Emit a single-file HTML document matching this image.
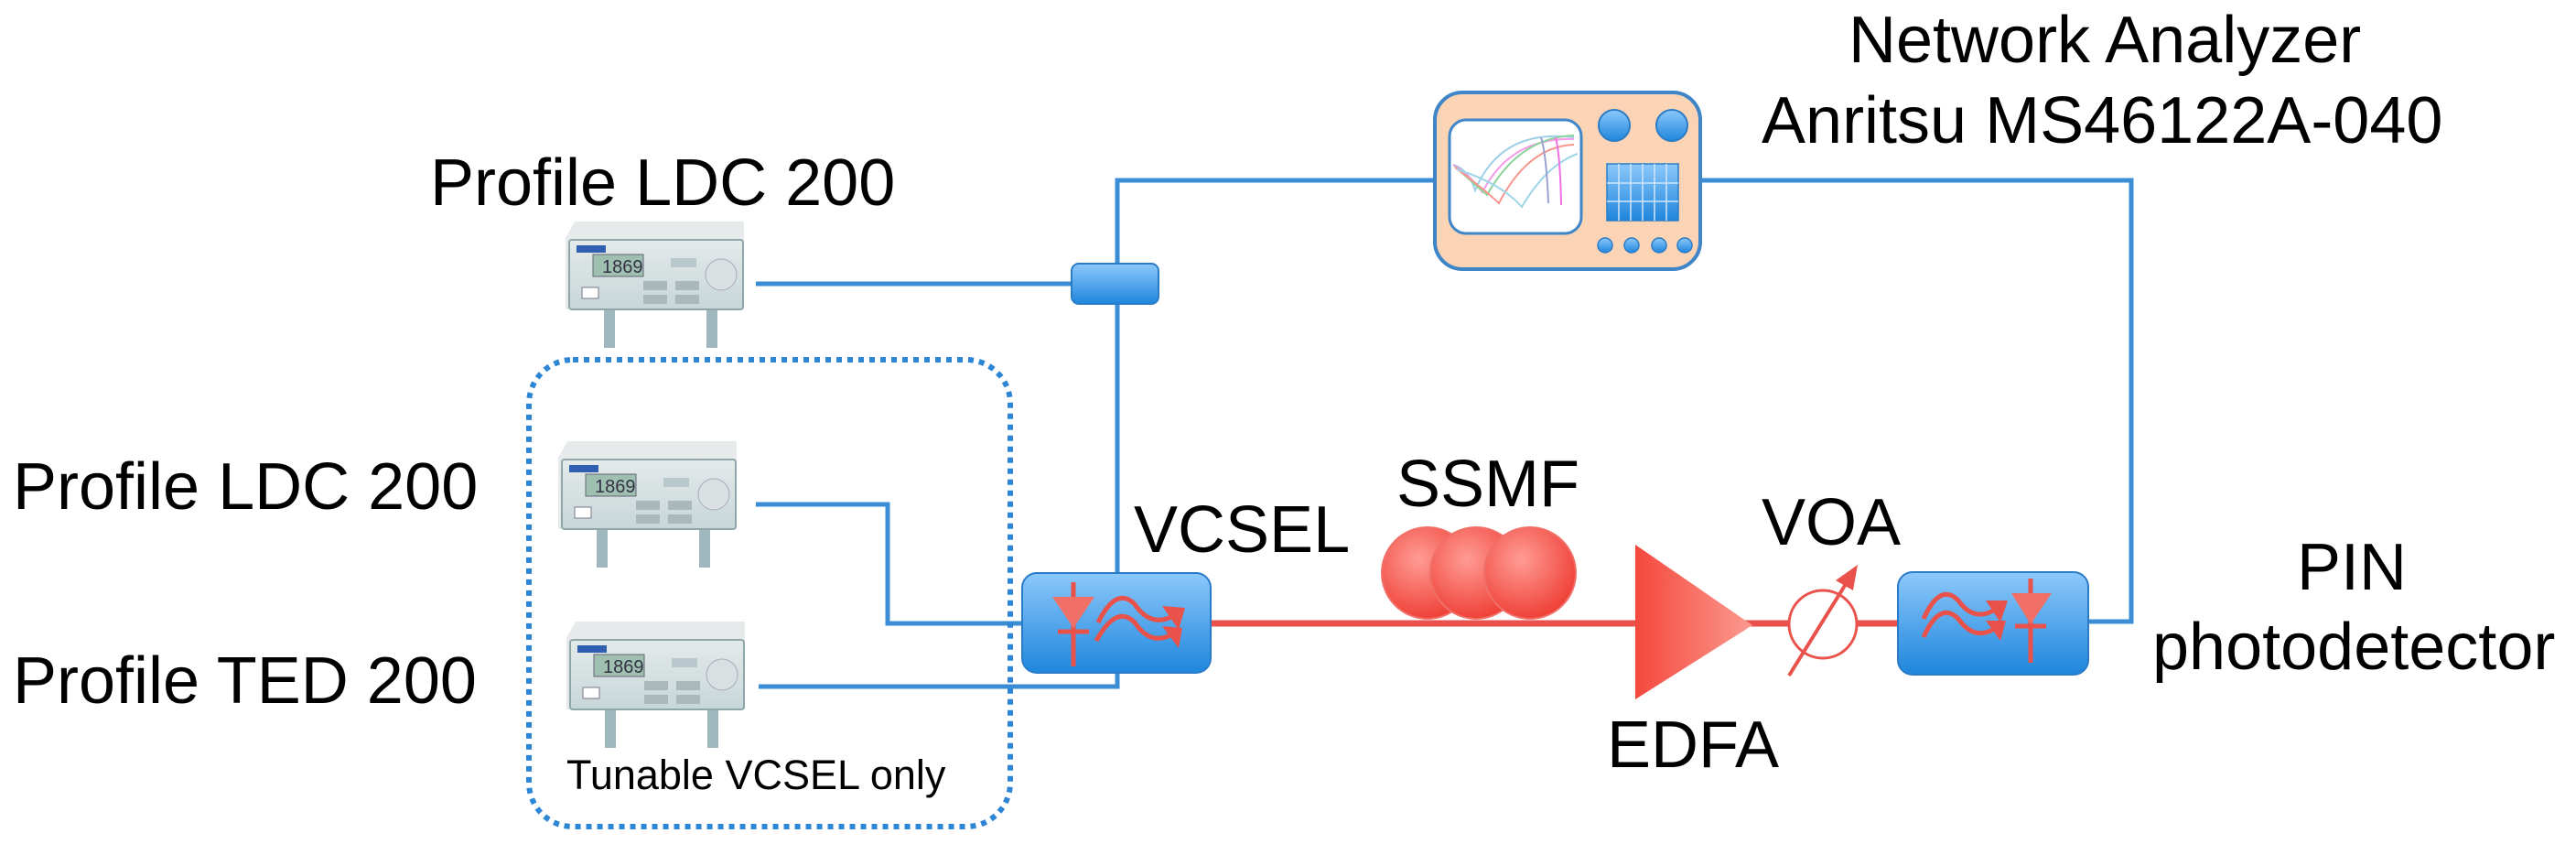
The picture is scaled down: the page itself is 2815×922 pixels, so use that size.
<!DOCTYPE html>
<html><head><meta charset="utf-8"><style>
html,body{margin:0;padding:0;background:#fff;}
svg{display:block;}
text{font-family:"Liberation Sans",Arial,sans-serif;fill:#000;}
</style></head><body>
<svg width="2815" height="922" viewBox="0 0 2815 922" xmlns="http://www.w3.org/2000/svg">
<defs>
<linearGradient id="bl" x1="0" y1="0" x2="0" y2="1"><stop offset="0" stop-color="#8cc8fb"/><stop offset="1" stop-color="#1f86dc"/></linearGradient>
<linearGradient id="rd" x1="0" y1="0" x2="1" y2="0"><stop offset="0" stop-color="#f5483c"/><stop offset="1" stop-color="#fb9a90"/></linearGradient>
<radialGradient id="rc" cx="0.4" cy="0.35" r="0.7"><stop offset="0" stop-color="#ff9c94"/><stop offset="1" stop-color="#ee3b32"/></radialGradient>
<linearGradient id="dv" x1="0" y1="0" x2="0" y2="1"><stop offset="0" stop-color="#e4eaea"/><stop offset="1" stop-color="#c7d6d8"/></linearGradient>
<g id="dev">
  <rect x="42" y="80" width="12" height="58" fill="#9fb8be"/>
  <rect x="154" y="80" width="12" height="58" fill="#9fb8be"/>
  <path d="M0 18 L10 0 L195 0 L195 96 L0 96 Z" fill="#e6eaea"/>
  <rect x="4" y="20" width="190" height="76" rx="3" fill="url(#dv)" stroke="#8fa6aa" stroke-width="2"/>
  <rect x="12" y="26" width="32" height="8" fill="#2f5fb0"/>
  <rect x="30" y="36" width="55" height="24" fill="#9fbfb0" stroke="#667" stroke-width="1"/>
  <text x="40" y="56" font-size="20" style="fill:#334">1869</text>
  <rect x="115" y="40" width="28" height="10" fill="#b8c8cc"/>
  <circle cx="170" cy="58" r="17" fill="#d8e0e2" stroke="#aab" stroke-width="1"/>
  <rect x="18" y="72" width="18" height="12" fill="#fff" stroke="#778" stroke-width="1"/>
  <rect x="85" y="65" width="26" height="10" fill="#aab8bc"/>
  <rect x="120" y="65" width="26" height="10" fill="#aab8bc"/>
  <rect x="85" y="80" width="26" height="10" fill="#aab8bc"/>
  <rect x="120" y="80" width="26" height="10" fill="#aab8bc"/>
</g>
</defs>

<!-- blue connectors -->
<g fill="none" stroke="#3b8ed6" stroke-width="5">
  <path d="M1221 626 L1221 197 L1567 197"/>
  <path d="M1858 197 L2329 197 L2329 679 L2280 679"/>
  <path d="M826 310 L1171 310"/>
  <path d="M826 551 L970 551 L970 681 L1117 681"/>
  <path d="M829 750 L1221 750 L1221 735"/>
</g>
<!-- dotted box -->
<rect x="578" y="393" width="526" height="510" rx="48" fill="none" stroke="#2d86d5" stroke-width="6" stroke-dasharray="6 6"/>

<!-- red fiber -->
<line x1="1323" y1="681" x2="2074" y2="681" stroke="#e8524a" stroke-width="7"/>

<!-- devices -->
<use href="#dev" transform="translate(618,242)"/>
<use href="#dev" transform="translate(610,482)"/>
<use href="#dev" transform="translate(619,679)"/>

<!-- splitter -->
<rect x="1171" y="288" width="95" height="44" rx="8" fill="url(#bl)" stroke="#2a7cc7" stroke-width="2"/>

<!-- network analyzer -->
<rect x="1568" y="101" width="290" height="193" rx="30" fill="#fbd3b5" stroke="#3f86c9" stroke-width="4"/>
<rect x="1584" y="131" width="144" height="124" rx="18" fill="#fff" stroke="#3f86c9" stroke-width="3"/>
<g fill="none" stroke-width="2">
  <path d="M1588 180 Q1605 185 1612 208 Q1640 140 1720 150" stroke="#9fd0e8"/>
  <path d="M1588 180 Q1605 190 1620 210 Q1650 150 1720 152" stroke="#f59ae8"/>
  <path d="M1590 182 Q1610 200 1625 213 Q1660 150 1720 148" stroke="#8ed39a"/>
  <path d="M1590 183 Q1620 205 1638 222 Q1670 160 1720 158" stroke="#f8958c"/>
  <path d="M1592 185 Q1640 200 1663 226 Q1690 180 1724 168" stroke="#9fd6e8"/>
  <path d="M1684 150 Q1690 170 1692 222" stroke="#9aa0d0"/>
  <path d="M1700 150 Q1705 170 1706 224" stroke="#f070e0"/>
</g>
<circle cx="1764" cy="137" r="17" fill="url(#bl)" stroke="#2a7cc7" stroke-width="2"/>
<circle cx="1827" cy="137" r="17" fill="url(#bl)" stroke="#2a7cc7" stroke-width="2"/>
<g fill="url(#bl)" stroke="#2a7cc7" stroke-width="1.5">
  <rect x="1756" y="179" width="78" height="62"/>
</g>
<g stroke="#cfe6fb" stroke-width="1.5">
  <path d="M1769 179V241M1782 179V241M1795 179V241M1808 179V241M1821 179V241M1756 200H1834M1756 220H1834"/>
</g>
<g fill="url(#bl)" stroke="#2a7cc7" stroke-width="1.5">
  <circle cx="1754" cy="268" r="8"/><circle cx="1783" cy="268" r="8"/><circle cx="1813" cy="268" r="8"/><circle cx="1841" cy="268" r="8"/>
</g>

<!-- VCSEL box -->
<rect x="1117" y="626" width="206" height="109" rx="16" fill="url(#bl)" stroke="#2a7cc7" stroke-width="2"/>
<g stroke="#e8524a" stroke-width="5" fill="none">
  <line x1="1173" y1="636" x2="1173" y2="728"/>
  <line x1="1156" y1="690" x2="1190" y2="690"/>
  <path d="M1200 680 Q1220 640 1240 660 Q1260 690 1290 668"/>
  <path d="M1198 700 Q1220 660 1240 680 Q1260 710 1288 688"/>
</g>
<path d="M1150 652 L1196 652 L1173 686 Z" fill="#f07068"/>
<path d="M1270 662 L1295 664 L1288 688 Z M1270 684 L1292 686 L1288 708 Z" fill="#e8524a"/>

<!-- SSMF spools -->
<ellipse cx="1560" cy="626" rx="50" ry="50" fill="url(#rc)" stroke="#f07068" stroke-width="2"/>
<ellipse cx="1613" cy="626" rx="50" ry="50" fill="url(#rc)" stroke="#f07068" stroke-width="2"/>
<ellipse cx="1672" cy="626" rx="50" ry="50" fill="url(#rc)" stroke="#f07068" stroke-width="2"/>

<!-- EDFA -->
<path d="M1787 595 L1915 683 L1787 764 Z" fill="url(#rd)"/>

<!-- VOA -->
<circle cx="1992" cy="682" r="37" fill="#fff" stroke="#e8524a" stroke-width="3"/>
<line x1="1955" y1="738" x2="2022" y2="630" stroke="#e8524a" stroke-width="4"/>
<path d="M2030 617 L2006 634 L2025 645 Z" fill="#e8524a"/>

<!-- PIN box -->
<rect x="2074" y="625" width="208" height="112" rx="16" fill="url(#bl)" stroke="#2a7cc7" stroke-width="2"/>
<g stroke="#e8524a" stroke-width="5" fill="none">
  <line x1="2219" y1="632" x2="2219" y2="724"/>
  <line x1="2202" y1="684" x2="2236" y2="684"/>
  <path d="M2102 676 Q2120 636 2140 656 Q2160 684 2188 660"/>
  <path d="M2102 696 Q2120 656 2140 676 Q2160 704 2186 682"/>
</g>
<path d="M2198 648 L2242 648 L2219 682 Z" fill="#f07068"/>
<path d="M2170 656 L2194 656 L2186 680 Z M2170 678 L2192 678 L2186 700 Z" fill="#e8524a"/>

<!-- labels -->
<g font-size="72">
<text x="2020" y="68">Network Analyzer</text>
<text x="1925" y="156">Anritsu MS46122A-040</text>
<text x="470" y="224">Profile LDC 200</text>
<text x="14" y="556">Profile LDC 200</text>
<text x="14" y="768">Profile TED 200</text>
<text x="1239" y="603">VCSEL</text>
<text x="1526" y="553">SSMF</text>
<text x="1925" y="595">VOA</text>
<text x="1756" y="838">EDFA</text>
<text x="2510" y="644">PIN</text>
<text x="2352" y="731">photodetector</text>
</g>
<text x="619" y="862" font-size="45">Tunable VCSEL only</text>
</svg>
</body></html>
